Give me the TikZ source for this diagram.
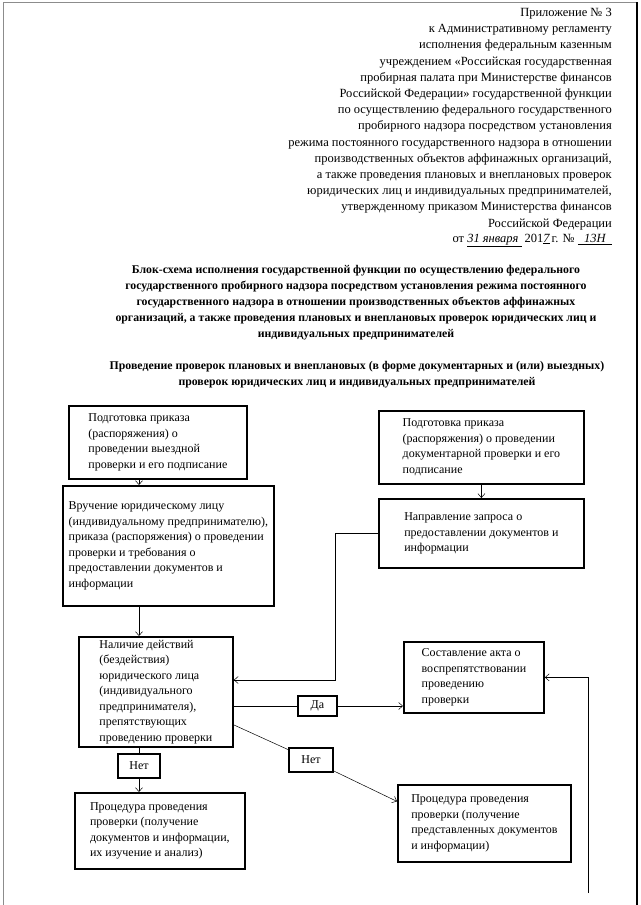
\documentclass[tikz,border=0pt]{standalone}
\usepackage{fontspec}
\setmainfont{Liberation Serif}
\usetikzlibrary{arrows.meta, positioning}

\begin{document}
\begin{tikzpicture}[x=1pt, y=-1pt,
    blk/.style={draw, line width=1.8pt, anchor=north west, align=left, inner sep=0pt,
                font=\fontsize{12}{15.5}\selectfont},
    lbl/.style={draw, line width=1.8pt, inner sep=0pt, font=\fontsize{12}{14}\selectfont},
    arr/.style={-{Straight Barb[length=4pt, width=7pt]}, line width=0.5pt},
    ln/.style={line width=0.5pt}]
  \useasboundingbox (0,0) rectangle (640,905);
  % edges of the scanned sheet
  \draw[black!45, line width=0.8pt] (3,905) -- (3,2) -- (637,2);
  \draw[line width=1.4pt] (637,2) -- (637,905);

  % header
  \node[anchor=north east, align=right, inner sep=0pt, font=\fontsize{12.5}{16.2}\selectfont] (hdr) at (612,8)
    {Приложение № 3\\
     к Административному регламенту\\
     исполнения федеральным казенным\\
     учреждением «Российская государственная\\
     пробирная палата при Министерстве финансов\\
     Российской Федерации» государственной функции\\
     по осуществлению федерального государственного\\
     пробирного надзора посредством установления\\
     режима постоянного государственного надзора в отношении\\
     производственных объектов аффинажных организаций,\\
     а также проведения плановых и внеплановых проверок\\
     юридических лиц и индивидуальных предпринимателей,\\
     утвержденному приказом Министерства финансов\\
     Российской Федерации\hspace*{12pt}\\[-1pt]
     от \underline{\itshape 31 января\ } 201\underline{\itshape 7}\,г. № \underline{\itshape\ \ 13Н\ \ }};

  % titles
  \node[anchor=north, align=center, inner sep=0pt, font=\bfseries\fontsize{11.8}{16}\selectfont] (ttl) at (356,265)
    {Блок-схема исполнения государственной функции по осуществлению федерального\\
     государственного пробирного надзора посредством установления режима постоянного\\
     государственного надзора в отношении производственных объектов аффинажных\\
     организаций, а также проведения плановых и внеплановых проверок юридических лиц и\\
     индивидуальных предпринимателей};
  \node[anchor=north, align=center, inner sep=0pt, font=\bfseries\fontsize{11.8}{16}\selectfont] (sub) at (357,361)
    {Проведение проверок плановых и внеплановых (в форме документарных и (или) выездных)\\
     проверок юридических лиц и индивидуальных предпринимателей};

  % blocks
  \node[blk, minimum width=178, minimum height=73] (prikazV) at (68,405)
    {Подготовка приказа\\(распоряжения) о\\проведении выездной\\проверки и его подписание};
  \node[blk, minimum width=211, minimum height=120] (vruchenie) at (62,485)
    {Вручение юридическому лицу\\(индивидуальному предпринимателю),\\приказа (распоряжения) о проведении\\проверки и требования о\\предоставлении документов и\\информации};
  \node[blk, minimum width=205, minimum height=73] (prikazD) at (378,410)
    {Подготовка приказа\\(распоряжения) о проведении\\документарной проверки и его\\подписание};
  \node[blk, minimum width=205, minimum height=69] (zapros) at (378,498)
    {Направление запроса о\\предоставлении документов и\\информации};
  \node[blk, minimum width=154, minimum height=110] (nalichie) at (78,636)
    {Наличие действий\\(бездействия)\\юридического лица\\(индивидуального\\предпринимателя),\\препятствующих\\проведению проверки};
  \node[blk, minimum width=140, minimum height=71] (akt) at (403,641)
    {Составление акта о\\воспрепятствовании\\проведению\\проверки};
  \node[blk, minimum width=170, minimum height=76] (proverkaV) at (74,792)
    {Процедура проведения\\проверки (получение\\документов и информации,\\их изучение и анализ)};
  \node[blk, minimum width=173, minimum height=77] (proverkaD) at (397,784)
    {Процедура проведения\\проверки (получение\\представленных документов\\и информации)};

  % answers
  \node[lbl, minimum width=39, minimum height=20] (da) at (317.5,706) {Да};
  \node[lbl, minimum width=42, minimum height=24] (netA) at (139,766) {Нет};
  \node[lbl, minimum width=44, minimum height=24] (netB) at (311,760) {Нет};

  \coordinate (turn) at (335,680);
  \coordinate (tail) at (588,893);

  % connectors
  \draw[arr] (prikazV.south -| netA) -- (vruchenie.north -| netA);
  \draw[arr] (vruchenie.south -| netA) -- (nalichie.north -| netA);
  \draw[arr] (prikazD.south) -- (zapros.north);
  \draw[arr] (zapros.west) -| (turn) -- (turn -| nalichie.east);
  \draw[ln] (nalichie.east |- da) -- (da.west);
  \draw[arr] (da.east) -- (da -| akt.west);
  \draw[ln] ([yshift=-33]nalichie.east) -- (netB);
  \draw[arr] (netB) -- ([yshift=22]proverkaD.west);
  \draw[ln] (nalichie.south -| netA) -- (netA.north);
  \draw[arr] (netA.south) -- (proverkaV.north -| netA);
  \draw[arr] (tail) |- (akt.east);
\end{tikzpicture}
\end{document}
